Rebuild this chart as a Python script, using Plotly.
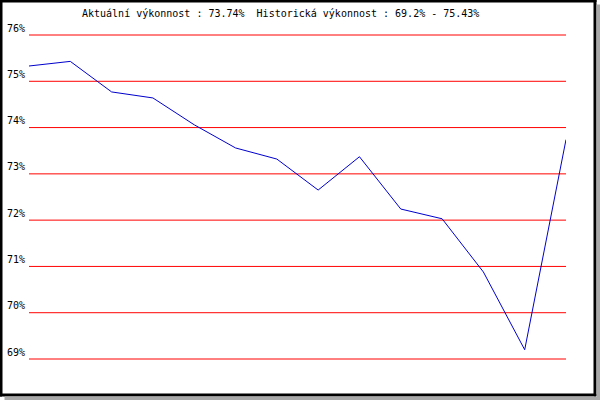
import plotly.graph_objects as go

# performance samples (percent)
periods = list(range(1, 15))
performance = [75.33, 75.43, 74.77, 74.64, 74.06, 73.56, 73.32,
               72.65, 73.37, 72.24, 72.03, 70.88, 69.20, 73.74]
y_ticks = [69, 70, 71, 72, 73, 74, 75, 76]
y_labels = [f"{v}%" for v in y_ticks]
title_text = "Aktuální výkonnost : 73.74%  Historická výkonnost : 69.2% - 75.43%"

W, H = 600, 400
# plot area in pixels (one extra pixel above and below so the edge grid lines are whole)
L, R, T, B = 29, 566, 34, 360
FONT = dict(family="DejaVu Sans Mono", size=10, color="#000000")
y_pad = (y_ticks[-1] - y_ticks[0]) / (B - T - 2)


def px_x(p):
    return (p - L) / (R - L)


def px_y(p):
    return (B - p) / (B - T)


fig = go.Figure()
fig.add_trace(go.Scatter(
    x=periods, y=performance, mode="lines",
    line=dict(color="#0000CC", width=1),
    hovertemplate="%{y:.2f}%<extra></extra>",
    showlegend=False,
))

# red grid
for v in y_ticks:
    fig.add_hline(y=v, line_color="#FF0000", line_width=1, layer="below")

# black frame with grey drop shadow
frame = [
    (0, 0, 2, 396, "#000000"),
    (0, 0, 596, 2, "#000000"),
    (594, 0, 596, 396, "#000000"),
    (0, 394, 596, 396, "#000000"),
    (597, 5, 600, 400, "#A8A8A8"),
    (5, 397, 600, 400, "#A8A8A8"),
]
for x0, y0, x1, y1, c in frame:
    fig.add_shape(type="rect", xref="paper", yref="paper",
                  x0=px_x(x0), x1=px_x(x1), y0=px_y(y1), y1=px_y(y0),
                  line=dict(width=1, color=c), fillcolor=c, layer="above")

fig.update_layout(
    width=W, height=H,
    margin=dict(l=L, r=W - R, t=T, b=H - B, pad=0),
    paper_bgcolor="#FFFFFF",
    plot_bgcolor="#FFFFFF",
    font=FONT,
    title=dict(text=title_text, font=FONT, xref="container", yref="container",
               x=82 / W, xanchor="left", y=1 - 13 / H, yanchor="middle"),
)
fig.update_xaxes(range=[periods[0], periods[-1]], showgrid=False, zeroline=False,
                 showticklabels=False, showline=False, ticks="")
fig.update_yaxes(range=[y_ticks[0] - y_pad, y_ticks[-1] + y_pad],
                 tickvals=y_ticks, ticktext=y_labels,
                 showgrid=False, zeroline=False, showline=False, ticks="",
                 ticklabelstandoff=3, ticklabelshift=-7, tickfont=FONT,
                 automargin=False)

fig.write_html("out.html", config={"displayModeBar": False},
               post_script="document.body.style.margin='0';")
